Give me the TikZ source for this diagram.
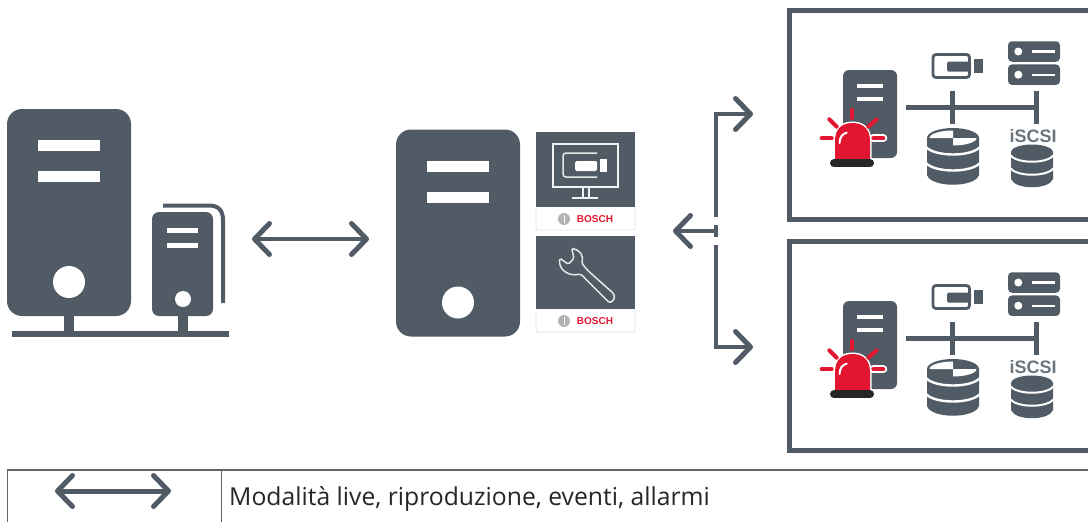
\documentclass[tikz,border=0pt]{standalone}
\usepackage{fontspec}
\usetikzlibrary{arrows.meta}
\newfontfamily\captionfont{Open Sans}
\newfontfamily\badgefont{Liberation Sans}
\definecolor{MySlate}{RGB}{80,91,102}
\definecolor{MyRed}{RGB}{226,22,48}
\definecolor{MyRule}{RGB}{100,100,100}
\tikzset{
  tower/.style={fill=MySlate,rounded corners=15pt,inner sep=0pt,minimum width=124pt,minimum height=207pt},
  smalltower/.style={fill=MySlate,rounded corners=7pt,inner sep=0pt,minimum width=61pt,minimum height=104pt},
  sitetower/.style={fill=MySlate,rounded corners=6pt,inner sep=0pt,minimum width=54pt,minimum height=88pt},
  rackunit/.style={fill=MySlate,rounded corners=4pt,inner sep=0pt,minimum width=52pt,minimum height=20.5pt},
  link/.style={draw=MySlate,line width=4.5pt},
  wire/.style={draw=MySlate,line width=4.5pt},
  barb/.tip={Straight Barb[length=15pt,width=31pt,line width=5pt,round]},
  sitebox/.style={draw=MySlate,line width=5pt},
  badge/.style={font=\badgefont\bfseries\fontsize{10}{10}\selectfont,text=MyRed,inner sep=0pt},
  ray/.style={draw=MyRed,line width=4pt,line cap=round}
}
\begin{document}
\begin{tikzpicture}[x=1pt,y=-1pt]
\useasboundingbox (0,0) rectangle (1088,522);
% big towers
\foreach \nm/\cx/\cy in {towerL/69/212.5, towerM/458/233} {
  \node[tower] (\nm) at (\cx,\cy) {};
  \fill[white] (\cx-31,\cy-72.5) rectangle ++(62,11);
  \fill[white] (\cx-31,\cy-41.5) rectangle ++(62,11);
  \fill[white] (\cx,\cy+69.5) circle[radius=16];
}
% small tower with its copy behind
\draw[MySlate,line width=4pt] (163,205.5) -- (209,205.5) .. controls (218,205.5) and (223,210) .. (223,220) -- (223,303);
\node[smalltower] (towerS) at (182.5,264) {};
\fill[white] (167,228) rectangle ++(31,5);
\fill[white] (167,243) rectangle ++(31,5);
\fill[white] (183,299) circle[radius=8];
% base line
\coordinate (baseL) at (12,334);
\coordinate (baseR) at (229,334);
\draw[MySlate,line width=5.5pt] (baseL) -- (baseR);
\draw[MySlate,line width=10pt] (towerL.south) -- (towerL.south |- baseL);
\draw[MySlate,line width=10pt] (towerS.south) -- (towerS.south |- baseL);
% arrows
\coordinate (linkL) at (252,239);
\coordinate (linkR) at (369,239);
\draw[link,{barb}-{barb}] (linkL) -- (linkR);
\coordinate (busTop) at (716,217);
\coordinate (busBot) at (716,245);
\coordinate (busMidA) at (716,225);
\coordinate (busMidB) at (716,237);
\coordinate (busOut) at (673,231);
\coordinate (siteA) at (753,114);
\coordinate (siteB) at (753,347);
\draw[link,-{barb}] (busTop) |- (siteA);
\draw[link,-{barb}] (busBot) |- (siteB);
\draw[link] (busMidA) -- (busMidB);
\draw[link,-{barb}] (716,231) -- (busOut);
% cards
\foreach \nm/\ty/\my/\by/\ly in {cardA/132/207/230/219, cardB/236/309/332/321} {
  \draw[gray!25,line width=0.8pt,rounded corners=2pt] (536,\my) -- (536,\by) -- (635,\by) -- (635,\my);
  \fill[MySlate] (536,\ty) rectangle (635,\my);
  \node[badge] (\nm) at (595,\ly) {BOSCH};
  \fill[gray!60] (564,\ly) circle[radius=6];
  \fill[white] (563.6,\ly-4) rectangle ++(0.8,8);
}
% monitor with camera
\draw[white!92!MySlate,line width=2pt] (553,144) rectangle (618,187);
\draw[white!92!MySlate,line width=1.6pt] (583,187) -- (583,197) (589,187) -- (589,197);
\draw[white!92!MySlate,line width=2pt] (572,197.5) -- (598,197.5);
\draw[white!85!MySlate,line width=1.5pt,rounded corners=3pt] (597,153) -- (563,153) -- (563,177) -- (597,177);
\fill[white,rounded corners=1.5pt] (575,161) rectangle (597,171);
\fill[white] (600,159) rectangle (607,172);
% wrench
\draw[white!85!MySlate,line width=1.5pt,rounded corners=1.5pt] (571.7,248.3) .. controls (580,250) and (584,256) .. (581.7,263.3)
  -- (588,270.7) -- (613.3,293.3) .. controls (616,299) and (611,304) .. (607.3,300.7) -- (580.7,274)
  .. controls (567,277) and (558,268) .. (560,258.3) -- (568.3,264.3) -- (574,258.3) -- cycle;
% the two sites
\foreach \dy/\nm in {0/a, 231/b} {
  \begin{scope}[yshift=-\dy pt]
    \draw[sitebox] (1090,10.5) -- (789.5,10.5) -- (789.5,219.5) -- (1090,219.5);
    % server and bus
    \node[sitetower] (server\nm) at (870,114) {};
    \fill[white] (857,84) rectangle ++(26,4);
    \fill[white] (857,97) rectangle ++(26,4);
    \coordinate (busL\nm) at (906,107.7);
    \coordinate (busR\nm) at (1037,107.7);
    \coordinate (dropA\nm) at (952.7,124);
    \coordinate (dropB\nm) at (1036.7,124);
    \draw[wire] (busL\nm) -- (busR\nm);
    \draw[wire] (952.7,90.7) -- (dropA\nm);
    \draw[wire] (1036.7,90.7) -- (dropB\nm);
    % camera
    \draw[MySlate,line width=2.8pt,rounded corners=3pt] (933,54.5) rectangle (969.5,77.5);
    \fill[MySlate,rounded corners=1.5pt] (947,61.7) rectangle (971,71.7);
    \fill[MySlate] (973.5,58.5) rectangle (983.3,73.3);
    % rack
    \node[rackunit] (rackA\nm) at (1034,51.5) {};
    \node[rackunit] (rackB\nm) at (1034,74.7) {};
    \foreach \ry in {51.5,74.7} {
      \fill[white] (1018.3,\ry) circle[radius=4];
      \fill[white] (1032,\ry-1.2) rectangle ++(23,2.2);
    }
    % disk with pie
    \fill[MySlate] (927,138) -- (979,138) -- (979,175) .. controls (975,188) and (931,188) .. (927,175) -- cycle;
    \fill[MySlate] (953,138) ellipse[x radius=26,y radius=10];
    \fill[white] (953,138) -- (929.5,138) arc[start angle=180,end angle=270,x radius=23.5,y radius=7.5] -- cycle;
    \fill[white] (953,138) -- (976.5,138) arc[start angle=0,end angle=90,x radius=23.5,y radius=7.5] -- cycle;
    \draw[white,line width=2.4pt] (926,147) .. controls (935,157) and (971,157) .. (980,147);
    \draw[white,line width=2.4pt] (926,163) .. controls (935,173) and (971,173) .. (980,163);
    % iscsi disk
    \node[font=\badgefont\bfseries\fontsize{18}{18}\selectfont,text=MySlate!85,inner sep=0pt] (iscsi\nm) at (1033,136) {iSCSI};
    \fill[MySlate] (1011,152) -- (1053,152) -- (1053,179) .. controls (1049,190) and (1015,190) .. (1011,179) -- cycle;
    \fill[MySlate] (1032,152) ellipse[x radius=21,y radius=7.5];
    \draw[white,line width=2pt] (1010,155) .. controls (1017,164) and (1047,164) .. (1054,155);
    \draw[white,line width=2pt] (1010,168) .. controls (1017,177) and (1047,177) .. (1054,168);
    % alarm
    \draw[white,line width=8pt,line cap=round] (873.3,138.3) -- (883.3,138.3);
    \draw[white,line width=3pt] (835,159) -- (835,141) .. controls (835,129) and (842,123) .. (852.5,123) .. controls (863,123) and (870,129) .. (870,141) -- (870,159);
    \fill[MyRed] (835,159) -- (835,141) .. controls (835,129) and (842,123) .. (852.5,123) .. controls (863,123) and (870,129) .. (870,141) -- (870,159) -- cycle;
    \draw[white,line width=2pt,line cap=round] (839.5,143) .. controls (840,137) and (842,134) .. (846.7,132.7);
    \draw[black!85,line width=8pt,line cap=round] (834,163.3) -- (870,163.3);
    \foreach \xa/\ya/\xb/\yb in {852.3/110/852.3/118, 829.3/119.3/836.7/126.7, 876.7/119.3/868.3/126.7, 821.7/138.3/831.7/138.3, 873.3/138.3/883.3/138.3} {
      \draw[ray] (\xa,\ya) -- (\xb,\yb);
    }
  \end{scope}
}
% legend table
\coordinate (ruleL) at (7,470);
\coordinate (ruleR) at (1088,470);
\coordinate (ruleC) at (221,470);
\draw[MyRule,line width=1.4pt] (ruleL) -- (ruleR);
\draw[MyRule,line width=1pt] (ruleL) -- (7,522);
\draw[MyRule,line width=1pt] (ruleC) -- (221,522);
\coordinate (keyL) at (55,491);
\coordinate (keyR) at (171,491);
\draw[link,line width=5pt,{barb}-{barb}] (keyL) -- (keyR);
\node[anchor=base west,inner sep=0pt,font=\captionfont\fontsize{24.7}{28}\selectfont,xscale=1,text=black!85] (caption) at (229,505) {Modalità live, riproduzione, eventi, allarmi};
\end{tikzpicture}
\end{document}
